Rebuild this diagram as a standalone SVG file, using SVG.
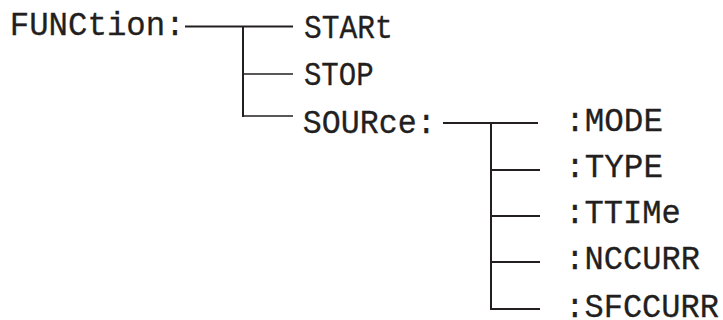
<svg xmlns="http://www.w3.org/2000/svg" width="723" height="320" viewBox="0 0 723 320">
<style>
text{font-family:"Liberation Mono","DejaVu Sans Mono",monospace;font-size:33px;fill:#231f20;stroke:#231f20;stroke-width:0.3}
.c line{stroke:#231f20;stroke-width:2;fill:none}
.c line.t{stroke-width:1.5}
</style>
<rect width="723" height="320" fill="#fff"/>
<g class="c" id="connectors">
<line x1="185" y1="26.5" x2="293" y2="26.5"/>
<line x1="243" y1="26" x2="243" y2="117"/>
<line class="t" x1="243" y1="74" x2="293" y2="74"/>
<line class="t" x1="243" y1="116" x2="293" y2="116"/>
<line x1="443" y1="123" x2="538" y2="123"/>
<line x1="491" y1="123" x2="491" y2="310"/>
<line x1="491" y1="170" x2="540" y2="170"/>
<line x1="491" y1="216" x2="540" y2="216"/>
<line x1="491" y1="262" x2="540" y2="262"/>
<line x1="491" y1="309" x2="540" y2="309"/>
</g>
<g id="function"><text x="9.7" y="34.5" textLength="175" lengthAdjust="spacingAndGlyphs">FUNCtion:</text></g>
<g id="start"><text x="303.9" y="38" textLength="88.8" lengthAdjust="spacingAndGlyphs">STARt</text></g>
<g id="stop"><text x="303.9" y="85" textLength="69.7" lengthAdjust="spacingAndGlyphs">STOP</text></g>
<g id="source"><text x="302.7" y="132.5" textLength="133" lengthAdjust="spacingAndGlyphs">SOURce:</text></g>
<g id="mode"><text x="565.2" y="131" textLength="97.8" lengthAdjust="spacingAndGlyphs">:MODE</text></g>
<g id="type"><text x="565.2" y="177" textLength="97.8" lengthAdjust="spacingAndGlyphs">:TYPE</text></g>
<g id="ttime"><text x="565.3" y="223" textLength="115.6" lengthAdjust="spacingAndGlyphs">:TTIMe</text></g>
<g id="nccurr"><text x="565.3" y="269" textLength="134.6" lengthAdjust="spacingAndGlyphs">:NCCURR</text></g>
<g id="sfccurr"><text x="565.3" y="316.5" textLength="153.6" lengthAdjust="spacingAndGlyphs">:SFCCURR</text></g>
</svg>
